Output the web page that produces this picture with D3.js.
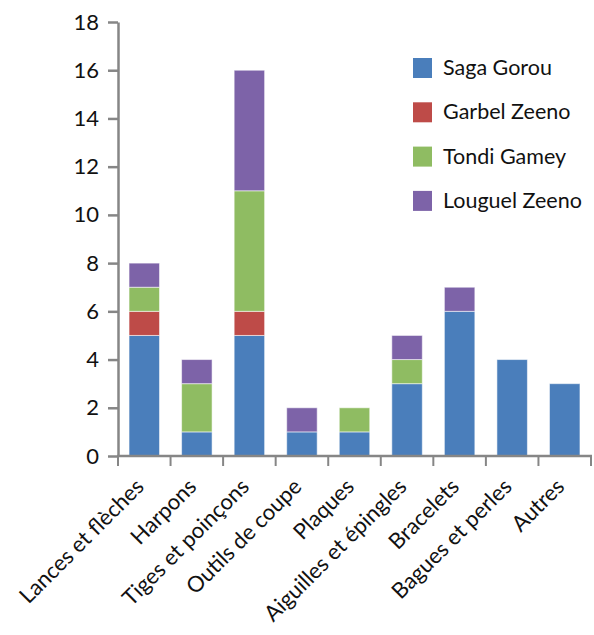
<!DOCTYPE html>
<html>
<head>
<meta charset="utf-8">
<script src="https://cdn.jsdelivr.net/npm/d3@7"></script>
<style>
  body { margin: 0; background: #fff; }
  text { font-family: Lato, "Open Sans", sans-serif; fill: #111; }
</style>
</head>
<body>
<script>
'use strict';

let categories = ['Lances et flèches', 'Harpons', 'Tiges et poinçons', 'Outils de coupe',
  'Plaques', 'Aiguilles et épingles', 'Bracelets', 'Bagues et perles', 'Autres'];
let seriesNames = ['Saga Gorou', 'Garbel Zeeno', 'Tondi Gamey', 'Louguel Zeeno'];
let sagaGorou = [5, 1, 5, 1, 1, 3, 6, 4, 3];
let garbelZeeno = [1, 0, 1, 0, 0, 0, 0, 0, 0];
let tondiGamey = [1, 2, 5, 0, 1, 1, 0, 0, 0];
let louguelZeeno = [1, 1, 5, 1, 0, 1, 1, 0, 0];
let colors = ['#4a7ebb', '#be4b48', '#8fbc62', '#7d63a8'];
let yTicks = [0, 2, 4, 6, 8, 10, 12, 14, 16, 18];

let width = 594;
let height = 635;

let rows = categories.map((c, i) => ({
  cat: c,
  'Saga Gorou': sagaGorou[i],
  'Garbel Zeeno': garbelZeeno[i],
  'Tondi Gamey': tondiGamey[i],
  'Louguel Zeeno': louguelZeeno[i]
}));

let stacked = d3.stack().keys(seriesNames)(rows);

let x = d3.scaleBand()
  .domain(categories)
  .range([118, 591])
  .paddingInner(0.42)
  .paddingOuter(0.21);

let y = d3.scaleLinear()
  .domain([0, 18])
  .range([456, 22]);

let svg = d3.select('body').append('svg')
  .attr('width', width)
  .attr('height', height);

// bars
svg.append('g')
  .selectAll('g')
  .data(stacked)
  .enter().append('g')
    .attr('fill', (d, i) => colors[i])
  .selectAll('rect')
  .data(d => d.filter(s => s[1] > s[0]))
  .enter().append('rect')
    .attr('x', d => x(d.data.cat))
    .attr('y', d => y(d[1]))
    .attr('width', x.bandwidth())
    .attr('height', d => y(d[0]) - y(d[1]))
    .attr('stroke', 'rgba(255,255,255,0.55)')
    .attr('stroke-width', 1);

// y axis
let yAxis = svg.append('g')
  .attr('transform', 'translate(118,0)')
  .call(d3.axisLeft(y).tickValues(yTicks).tickSize(10).tickPadding(9).tickSizeOuter(0));
yAxis.select('.domain').attr('stroke', '#868686').attr('stroke-width', 2.5);
yAxis.selectAll('.tick line').attr('stroke', '#868686').attr('stroke-width', 2.5);
yAxis.selectAll('.tick text')
  .style('font-size', '22px')
  .style('font-family', 'Lato, "Open Sans", sans-serif')
  .attr('fill', '#111');

// x axis: line plus ticks at band edges
let xg = svg.append('g');
xg.append('line')
  .attr('x1', 117).attr('x2', 592)
  .attr('y1', y(0)).attr('y2', y(0))
  .attr('stroke', '#868686').attr('stroke-width', 2.5);

let step = x.step();
let edges = categories.map(c => x(c) - x.paddingInner() * step / 2);
edges.push(591);
xg.selectAll('.xt')
  .data(edges)
  .enter().append('line')
    .attr('class', 'xt')
    .attr('x1', d => d).attr('x2', d => d)
    .attr('y1', y(0)).attr('y2', y(0) + 10)
    .attr('stroke', '#868686').attr('stroke-width', 2);

xg.selectAll('.xl')
  .data(categories)
  .enter().append('text')
    .attr('class', 'xl')
    .attr('text-anchor', 'end')
    .style('font-size', '22px')
    .attr('transform', d => 'translate(' + (x(d) + x.bandwidth() / 2 + 1) + ',' + 488 + ') rotate(-45)')
    .text(d => d);

// legend
let legend = svg.append('g')
  .selectAll('g')
  .data(seriesNames)
  .enter().append('g')
    .attr('transform', (d, i) => 'translate(413,' + (58 + i * 44.3) + ')');

legend.append('rect')
  .attr('width', 19)
  .attr('height', 20)
  .attr('fill', (d, i) => colors[i]);

legend.append('text')
  .attr('x', 30)
  .attr('y', 17)
  .style('font-size', '21.5px')
  .text(d => d);
</script>
</body>
</html>
